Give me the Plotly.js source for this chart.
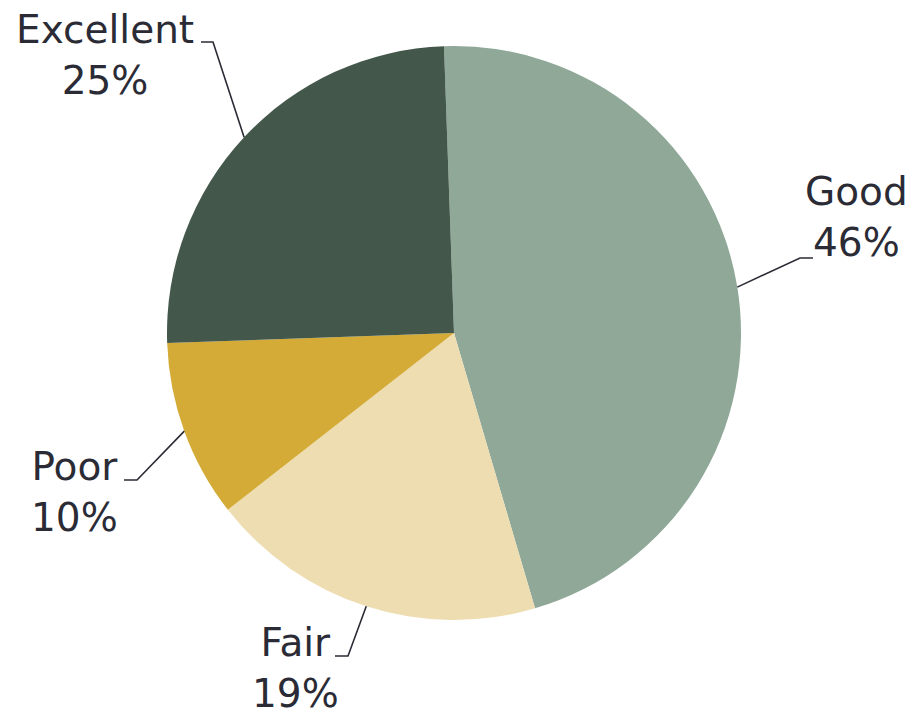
<!DOCTYPE html>
<html>
<head>
<meta charset="utf-8">
<script src="https://cdn.plot.ly/plotly-3.0.1.min.js"></script>
<style>html,body{margin:0;padding:0;background:#fff;}#chart{width:920px;height:718px;}</style>
</head>
<body>
<div id="chart"></div>
<script>
// Data
const categories = ["Good", "Fair", "Poor", "Excellent"];
const values = [46, 19, 10, 25];
const sliceColors = ["#8FA898", "#EEDDB0", "#D4AB37", "#43574B"];

// Layout constants (pixels)
const W = 920, H = 718;
const CX = 454, CY = 333, R = 287;
const ROT = -2; // degrees, first slice start
// label block centres and leader elbow points (pixels)
const labelPos = {
  "Good":      {tx: 856, ty: 217, ex: 800, ey: 258, hx: 813},
  "Fair":      {tx: 295, ty: 668, ex: 348, ey: 656, hx: 335},
  "Poor":      {tx: 74,  ty: 492, ex: 137, ey: 480, hx: 124},
  "Excellent": {tx: 105, ty: 55,  ex: 213, ey: 42,  hx: 201}
};

const px = x => x / W;
const py = y => 1 - y / H;

const total = values.reduce((a, b) => a + b, 0);
const annotations = [];
const shapes = [];
let cum = 0;
values.forEach((v, i) => {
  const mid = ROT + (cum + v / 2) / total * 360;
  cum += v;
  const a = mid * Math.PI / 180;
  const edgeX = CX + R * Math.sin(a);
  const edgeY = CY - R * Math.cos(a);
  const lp = labelPos[categories[i]];
  const pct = Math.round(v / total * 100);
  annotations.push({
    x: px(lp.tx), y: py(lp.ty), xref: "paper", yref: "paper",
    xanchor: "center", yanchor: "middle", showarrow: false,
    text: categories[i] + "<br>" + pct + "%",
    font: {family: "'DejaVu Sans', sans-serif", size: 39, color: "#2b2b36"}
  });
  shapes.push({
    type: "path", xref: "paper", yref: "paper",
    path: "M " + px(edgeX) + " " + py(edgeY) + " L " + px(lp.ex) + " " + py(lp.ey) + " L " + px(lp.hx) + " " + py(lp.ey),
    line: {color: "#2b2b36", width: 1.6}
  });
});

const trace = {
  type: "pie",
  labels: categories,
  values: values,
  sort: false,
  direction: "clockwise",
  rotation: ROT,
  marker: {colors: sliceColors, line: {width: 0}},
  textinfo: "none",
  hoverinfo: "none",
  domain: {x: [px(CX - R), px(CX + R)], y: [py(CY + R), py(CY - R)]},
  showlegend: false
};

const layout = {
  width: W, height: H,
  margin: {l: 0, r: 0, t: 0, b: 0},
  paper_bgcolor: "#ffffff",
  showlegend: false,
  annotations: annotations,
  shapes: shapes
};

Plotly.newPlot("chart", [trace], layout, {displayModeBar: false, staticPlot: true});
</script>
</body>
</html>
